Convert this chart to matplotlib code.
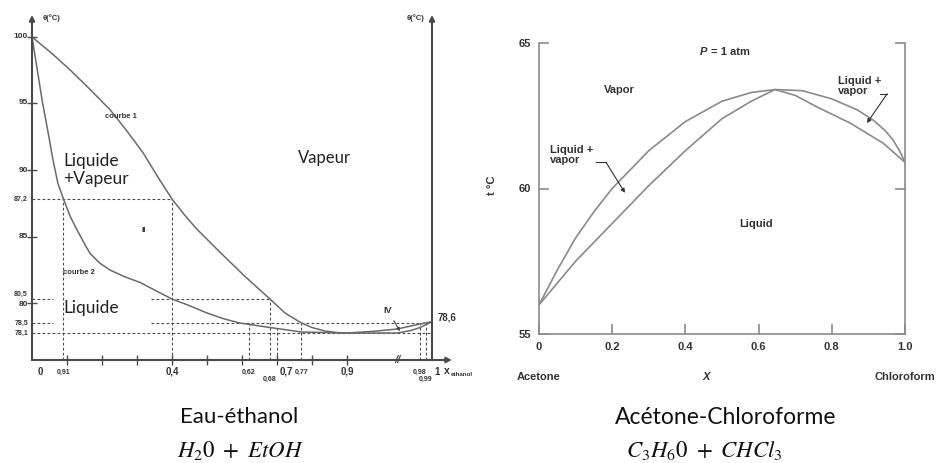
import matplotlib.pyplot as plt
import matplotlib.transforms as mtransforms
import numpy as np

plt.rcParams['font.family'] = ['Liberation Sans', 'DejaVu Sans']
plt.rcParams['mathtext.fontset'] = 'stix'

# water / ethanol : x = mole fraction of ethanol, T in degC
we_x_vap = [0, 0.055, 0.109, 0.165, 0.223, 0.27, 0.317, 0.36, 0.40, 0.435, 0.469,
            0.537, 0.606, 0.645, 0.68, 0.723, 0.77, 0.80, 0.837, 0.87, 0.90,
            0.93, 0.955, 0.98, 1.0]
we_T_vap = [100, 98.8, 97.5, 96.05, 94.5, 92.95, 91.3, 89.3, 87.2, 86.3, 85.5,
            83.9, 82.2, 81.3, 80.5, 79.25, 78.5, 78.32, 78.18, 78.12, 78.1,
            78.17, 78.26, 78.46, 78.6]
we_x_liq = [0, 0.014, 0.029, 0.046, 0.06, 0.074, 0.09, 0.109, 0.129, 0.149, 0.166,
            0.194, 0.223, 0.266, 0.309, 0.354, 0.40, 0.45, 0.50, 0.55, 0.594,
            0.65, 0.70, 0.77, 0.90, 0.955, 0.97, 0.98, 1.0]
we_T_liq = [100, 97.7, 95.2, 92.8, 90.75, 88.7, 87.2, 86.2, 85.4, 84.55, 83.8,
            83.1, 82.6, 82.1, 81.7, 81.1, 80.5, 79.8, 79.25, 78.8, 78.5,
            78.38, 78.28, 78.14, 78.1, 78.1, 78.2, 78.32, 78.6]

# schematic (non linear) axes of the water/ethanol sketch
x_knots = [0, 0.9, 0.98, 1.0]
x_pos = [0, 0.9, 1.109, 1.143]
T_knots = [77.0, 78.1, 78.5, 80, 80.5, 85, 87.2, 90, 95, 100, 101.7]
T_pos = [0, 27, 37, 57, 61, 123, 161, 190, 257, 323, 345]

we_xticks = [0.1, 0.2, 0.3, 0.4, 0.5, 0.6, 0.7, 0.8, 0.9]
we_yticks = [80, 85, 90, 95, 100]
# (value, text, big?, second row?)
we_xlabels = [(0, '0', True, False), (0.09, '0,91', False, False),
              (0.4, '0,4', True, False), (0.62, '0,62', False, False),
              (0.68, '0,68', False, True), (0.7, '0,7', True, False),
              (0.77, '0,77', False, False), (0.9, '0,9', True, False),
              (0.98, '0,98', False, False), (0.99, '0,99', False, True),
              (1.0, '1', True, False)]
we_ylabels = [(100, '100'), (95, '95'), (90, '90'), (87.2, '87,2'), (85, '85'),
              (80.5, '80,5'), (80, '80'), (78.5, '78,5'), (78.1, '78,1')]

# guide lines: (T, x from, x to) and (x, T top)
h_guides = [(87.2, 0, 0.4), (80.5, 0, 0.06), (80.5, 0.34, 0.68),
            (78.5, 0, 0.06), (78.5, 0.34, 1.0), (78.1, 0, 1.0)]
v_guides = [(0.09, 87.2), (0.4, 87.2), (0.62, 78.5), (0.68, 80.5),
            (0.7, 78.3), (0.77, 78.5), (0.98, 78.46), (0.99, 78.53)]

# acetone / chloroform : x = mole fraction of chloroform, P = 1 atm
ac_x_vap = [0, 0.05, 0.1, 0.15, 0.2, 0.3, 0.4, 0.5, 0.58, 0.645,
            0.72, 0.8, 0.87, 0.913, 0.945, 0.967, 0.985, 1.0]
ac_T_vap = [56.0, 57.2, 58.3, 59.2, 60.0, 61.3, 62.3, 63.0, 63.3, 63.4,
            63.36, 63.08, 62.7, 62.35, 62.0, 61.67, 61.3, 60.9]
ac_x_liq = [0, 0.1, 0.2, 0.3, 0.4, 0.5, 0.58, 0.645, 0.7, 0.76, 0.85, 0.94, 1.0]
ac_T_liq = [56.0, 57.5, 58.8, 60.1, 61.3, 62.4, 63.0, 63.4, 63.2, 62.8,
            62.25, 61.56, 60.9]
ac_xticks = [0, 0.2, 0.4, 0.6, 0.8, 1.0]
ac_xticklabels = ['0', '0.2', '0.4', '0.6', '0.8', '1.0']
ac_yticks = [55, 60, 65]


def piecewise(xp, fp):
    xp = np.asarray(xp, float)
    fp = np.asarray(fp, float)

    def f(v):
        v = np.asarray(v, float)
        out = np.interp(v, xp, fp)
        lo = fp[0] + (v - xp[0]) * (fp[1] - fp[0]) / (xp[1] - xp[0])
        hi = fp[-1] + (v - xp[-1]) * (fp[-1] - fp[-2]) / (xp[-1] - xp[-2])
        return np.where(v < xp[0], lo, np.where(v > xp[-1], hi, out))
    return f


W, H = 944, 463


def px_box(l, t, r, b):
    return [l / W, 1 - b / H, (r - l) / W, (b - t) / H]


axis_c = '#4a4a4a'
curve_c = '#6a6a6a'
txt_c = '#333333'
PX = 72 / 100  # points per pixel

fig = plt.figure(figsize=(W / 100, H / 100), dpi=100)

# ---------------- water / ethanol ----------------
ax1 = fig.add_axes(px_box(32, 15, 432, 360))
ax1.set_xscale('function', functions=(piecewise(x_knots, x_pos), piecewise(x_pos, x_knots)))
ax1.set_yscale('function', functions=(piecewise(T_knots, T_pos), piecewise(T_pos, T_knots)))
ax1.set_xlim(0, 1)
ax1.set_ylim(T_knots[0], T_knots[-1])
for s in ax1.spines.values():
    s.set_visible(False)

arrow = dict(arrowstyle='-|>', color=axis_c, lw=1.5, mutation_scale=8,
             shrinkA=0, shrinkB=0)
for start, end in [((0, 0), (0, 1.0)), ((0, 0), (1.05, 0)), ((1, 0), (1, 1.0))]:
    ax1.annotate('', xy=end, xytext=start, xycoords='axes fraction',
                 arrowprops=arrow, annotation_clip=False)

ax1.set_xticks(we_xticks, labels=[])
ax1.set_yticks(we_yticks, labels=[])
ax1.xaxis.set_minor_locator(plt.NullLocator())
ax1.yaxis.set_minor_locator(plt.NullLocator())
ax1.tick_params(direction='inout', length=7, width=1, color=axis_c)

for T, x0, x1 in h_guides:
    ax1.hlines(T, x0, x1, colors=axis_c, lw=0.8, linestyles=(0, (2.5, 2)))
for x, T in v_guides:
    ax1.vlines(x, T_knots[0], T, colors=axis_c, lw=0.8, linestyles=(0, (2.5, 2)))

ax1.plot(we_x_vap, we_T_vap, color=curve_c, lw=1.1)
ax1.plot(we_x_liq, we_T_liq, color=curve_c, lw=1.1)

xb = mtransforms.blended_transform_factory(ax1.transData, ax1.transAxes)
yb = mtransforms.blended_transform_factory(ax1.transAxes, ax1.transData)
for x, lab, big, row2 in we_xlabels:
    dx = {0: 8, 0.7: 9, 1.0: 5}.get(x, 0)
    dy = -19 if row2 else -12
    ax1.annotate(lab, xy=(x, 0), xycoords=xb, xytext=(dx * PX, dy * PX),
                 textcoords='offset points', ha='center', va='center',
                 fontsize=7 if big else 5, fontweight='bold', color=txt_c,
                 annotation_clip=False)
ax1.annotate('x', xy=(1.0, 0), xycoords=xb, xytext=(15 * PX, -11 * PX),
             textcoords='offset points', ha='center', va='center', fontsize=7.5,
             fontweight='bold', color=txt_c, annotation_clip=False)
ax1.annotate('ethanol', xy=(1.0, 0), xycoords=xb, xytext=(19 * PX, -14 * PX),
             textcoords='offset points', ha='left', va='center', fontsize=4.5,
             fontweight='bold', color=txt_c, annotation_clip=False)
ax1.text(0.955, 0, '//', transform=xb, ha='center', va='center', fontsize=8,
         color=axis_c, fontstyle='italic', fontweight='bold')

for T, lab in we_ylabels:
    big = lab in ('100', '95', '90', '85', '80')
    dy = {80.5: 5, 80: -1}.get(T, 0)
    ax1.annotate(lab, xy=(0, T), xycoords=yb, xytext=(-4 * PX, dy * PX),
                 textcoords='offset points', ha='right', va='center',
                 fontsize=6 if big else 5, fontweight='bold', color=txt_c,
                 annotation_clip=False)

ax1.text(0.027, 0.991, 'θ(°C)', transform=ax1.transAxes, ha='left', va='center',
         fontsize=5.5, fontweight='bold', color=txt_c)
ax1.text(0.982, 0.991, 'θ(°C)', transform=ax1.transAxes, ha='right', va='center',
         fontsize=5.5, fontweight='bold', color=txt_c)
ax1.text(1.015, 78.95, '78,6', transform=yb, ha='left', va='center',
         fontsize=7, fontweight='bold', color=txt_c)

ax1.text(0.209, 94.0, 'courbe 1', ha='left', va='center', fontsize=5.5,
         fontweight='bold', color=txt_c)
ax1.text(0.089, 82.45, 'courbe 2', ha='left', va='center', fontsize=5.5,
         fontweight='bold', color=txt_c)
ax1.text(0.32, 85.4, 'II', ha='center', va='center', fontsize=6,
         fontweight='bold', color=txt_c)
ax1.annotate('IV', xy=(0.958, 78.17), xytext=(0.945, 79.4), ha='center',
             va='center', fontsize=6.5, fontweight='bold', color=txt_c,
             arrowprops=dict(arrowstyle='-|>', color=axis_c, lw=0.8,
                             mutation_scale=5, shrinkA=2, shrinkB=0))

big_font = ['Lato', 'DejaVu Sans']
ax1.text(0.089, 90.0, 'Liquide\n+Vapeur', ha='left', va='center', fontsize=12.5,
         family=big_font, color='#222222', linespacing=1.2)
ax1.text(0.76, 90.9, 'Vapeur', ha='left', va='center', fontsize=12,
         family=big_font, color='#222222')
ax1.text(0.089, 79.6, 'Liquide', ha='left', va='center', fontsize=12.5,
         family=big_font, color='#222222')

# ---------------- acetone / chloroform ----------------
grey = '#8a8a8a'
ax2 = fig.add_axes(px_box(539, 43, 905, 334))
ax2.plot(ac_x_vap, ac_T_vap, color=grey, lw=1.2)
ax2.plot(ac_x_liq, ac_T_liq, color=grey, lw=1.2)
ax2.set_xlim(0, 1)
ax2.set_ylim(55, 65)
ax2.spines['top'].set_visible(False)
for s in ['left', 'bottom', 'right']:
    ax2.spines[s].set_color(grey)
    ax2.spines[s].set_linewidth(1.2)
ax2.set_xticks(ac_xticks, labels=ac_xticklabels)
ax2.set_yticks(ac_yticks)
ax2.tick_params(direction='in', length=7, width=1.2, color=grey, right=True,
                labelsize=8, labelcolor=txt_c, pad=6)
for lab in ax2.get_xticklabels() + ax2.get_yticklabels():
    lab.set_fontweight('bold')

bold8 = dict(fontsize=8, fontweight='bold', color=txt_c)
ax2.text(0.44, 64.69, 'P', ha='left', va='center', fontstyle='italic', **bold8)
ax2.text(0.47, 64.69, '= 1 atm', ha='left', va='center', **bold8)
ax2.text(0.219, 63.38, 'Vapor', ha='center', va='center', **bold8)
ax2.text(0.593, 58.78, 'Liquid', ha='center', va='center', **bold8)
ax2.text(0.03, 61.15, 'Liquid +\nvapor', ha='left', va='center',
         linespacing=1.0, **bold8)
ax2.text(0.817, 63.52, 'Liquid +\nvapor', ha='left', va='center',
         linespacing=1.0, **bold8)

lead = dict(arrowstyle='-|>', color='#333333', lw=0.8, mutation_scale=6,
            shrinkA=0, shrinkB=0)
ax2.plot([0.156, 0.183], [60.9, 60.9], color='#333333', lw=0.8)
ax2.annotate('', xy=(0.235, 59.85), xytext=(0.183, 60.9), arrowprops=lead)
ax2.plot([0.932, 0.951], [63.25, 63.25], color='#333333', lw=0.8)
ax2.annotate('', xy=(0.896, 62.25), xytext=(0.951, 63.25), arrowprops=lead)

ax2.text(-0.128, 0.512, 't °C', transform=ax2.transAxes, rotation=90,
         ha='center', va='center', **bold8)
ax2.text(0.456, -0.148, 'X', transform=ax2.transAxes, ha='center', va='center',
         fontstyle='italic', **bold8)
ax2.text(0.0, -0.148, 'Acetone', transform=ax2.transAxes, ha='center',
         va='center', **bold8)
ax2.text(1.0, -0.148, 'Chloroform', transform=ax2.transAxes, ha='center',
         va='center', **bold8)

# ---------------- captions ----------------
cap = dict(ha='center', va='center', color='#111111')
fig.text(239 / W, 1 - 417 / H, 'Eau-éthanol', fontsize=16, family=big_font, **cap)
fig.text(240 / W, 1 - 450 / H, r'$H_20\ +\ EtOH$', fontsize=16.5, **cap)
fig.text(726 / W, 1 - 417 / H, 'Acétone-Chloroforme', fontsize=16.5, family=big_font, **cap)
fig.text(704 / W, 1 - 450 / H, r'$C_3H_60\ +\ CHCl_3$', fontsize=16.5, **cap)

fig.savefig('out.png', dpi=100)
